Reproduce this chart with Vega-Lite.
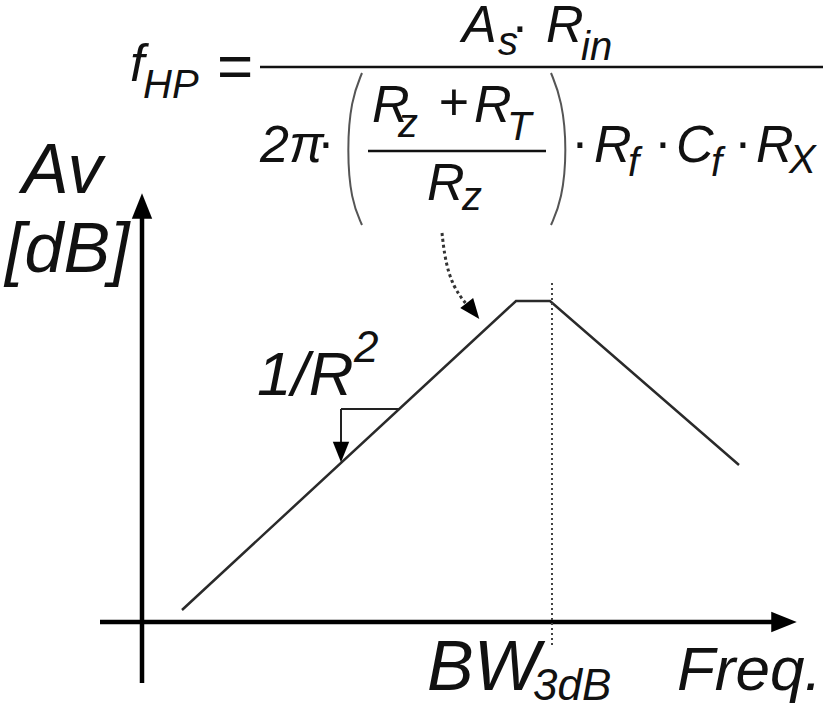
{
  "$schema": "https://vega.github.io/schema/vega-lite/v6.json",
  "width": 827,
  "height": 710,
  "autosize": {"type": "none"},
  "padding": 0,
  "background": "white",
  "config": {"view": {"stroke": null}},
  "resolve": {"scale": {"size": "independent"}},
  "datasets": {
    "curve": [
      {"x": 40, "y": 12, "i": 0},
      {"x": 374, "y": 321, "i": 1},
      {"x": 408, "y": 321, "i": 2},
      {"x": 597, "y": 157, "i": 3}
    ],
    "axes": [
      {"x": 0, "y": -61, "x2": 0, "y2": 410},
      {"x": -42, "y": 0, "x2": 633, "y2": 0}
    ],
    "bw": [{"x": 410, "y": -23, "y2": 339}],
    "fracs": [
      {"x": 118, "x2": 681, "y": 555},
      {"x": 226, "x2": 404, "y": 471}
    ],
    "slope": [
      {"x": 199, "y": 213, "x2": 258, "y2": 213},
      {"x": 199, "y": 213, "x2": 199, "y2": 177}
    ],
    "parens": [
      {"p": "L", "i": 0, "x": 220, "y": 549},
      {"p": "L", "i": 1, "x": 209, "y": 522},
      {"p": "L", "i": 2, "x": 205, "y": 472},
      {"p": "L", "i": 3, "x": 209, "y": 422},
      {"p": "L", "i": 4, "x": 220, "y": 397},
      {"p": "R", "i": 0, "x": 409, "y": 549},
      {"p": "R", "i": 1, "x": 420, "y": 522},
      {"p": "R", "i": 2, "x": 425, "y": 472},
      {"p": "R", "i": 3, "x": 420, "y": 422},
      {"p": "R", "i": 4, "x": 409, "y": 397}
    ],
    "dash": [
      {"i": 0, "x": 300, "y": 389},
      {"i": 1, "x": 303, "y": 362},
      {"i": 2, "x": 311, "y": 335},
      {"i": 3, "x": 325, "y": 317}
    ],
    "heads": [
      {"x": 0, "y": 416, "deg": 270, "kind": "axis"},
      {"x": 642, "y": 0, "deg": 0, "kind": "axis"},
      {"x": 199, "y": 170, "deg": 90, "kind": "pointer"},
      {"x": 331, "y": 311, "deg": 52, "kind": "pointer"}
    ],
    "textLeft": [
      {"t": "f", "x": -12, "y": 541, "role": "main"},
      {"t": "HP", "x": 1, "y": 524, "role": "sub"},
      {"t": "A", "x": 320, "y": 580, "role": "main"},
      {"t": "s", "x": 356, "y": 567, "role": "sub"},
      {"t": "R", "x": 404, "y": 580, "role": "main"},
      {"t": "in", "x": 439, "y": 562, "role": "sub"},
      {"t": "2π", "x": 118, "y": 460, "role": "main"},
      {"t": "R", "x": 230, "y": 500, "role": "main"},
      {"t": "z", "x": 256, "y": 485, "role": "sub"},
      {"t": "R", "x": 332, "y": 500, "role": "main"},
      {"t": "T", "x": 365, "y": 482, "role": "sub"},
      {"t": "R", "x": 285, "y": 422, "role": "main"},
      {"t": "z", "x": 320, "y": 412, "role": "sub"},
      {"t": "R", "x": 452, "y": 460, "role": "main"},
      {"t": "f", "x": 486, "y": 446, "role": "sub"},
      {"t": "C", "x": 534, "y": 460, "role": "main"},
      {"t": "f", "x": 569, "y": 446, "role": "sub"},
      {"t": "R", "x": 614, "y": 460, "role": "main"},
      {"t": "X", "x": 647, "y": 449, "role": "sub"},
      {"t": "Av", "x": -120, "y": 429, "role": "label"},
      {"t": "[dB]", "x": -137, "y": 350, "role": "label"},
      {"t": "1/R", "x": 115, "y": 227, "role": "label2"},
      {"t": "2", "x": 212, "y": 260, "role": "small"},
      {"t": "BW", "x": 285, "y": -68, "role": "label"},
      {"t": "3dB", "x": 391, "y": -78, "role": "small"},
      {"t": "Freq.", "x": 535, "y": -68, "role": "label2"}
    ],
    "textCenter": [
      {"t": "=", "x": 93, "y": 535, "role": "label2"},
      {"t": "·", "x": 378, "y": 579, "role": "main"},
      {"t": "·", "x": 184, "y": 463, "role": "main"},
      {"t": "+", "x": 312, "y": 502, "role": "main"},
      {"t": "·", "x": 438, "y": 463, "role": "main"},
      {"t": "·", "x": 521, "y": 463, "role": "main"},
      {"t": "·", "x": 601, "y": 463, "role": "main"}
    ]
  },
  "encoding": {
    "x": {"field": "x", "type": "quantitative", "axis": null, "scale": {"domain": [-142, 685], "nice": false, "zero": false}},
    "y": {"field": "y", "type": "quantitative", "axis": null, "scale": {"domain": [-88, 622], "nice": false, "zero": false}}
  },
  "layer": [
    {
      "data": {"name": "curve"},
      "mark": {"type": "line", "stroke": "#2a2a2a", "strokeWidth": 2.5},
      "encoding": {"order": {"field": "i", "type": "quantitative"}}
    },
    {
      "data": {"name": "axes"},
      "mark": {"type": "rule", "stroke": "black", "strokeWidth": 4.5},
      "encoding": {"x2": {"field": "x2"}, "y2": {"field": "y2"}}
    },
    {
      "data": {"name": "bw"},
      "mark": {"type": "rule", "stroke": "#444", "strokeWidth": 2, "strokeDash": [2, 3]},
      "encoding": {"y2": {"field": "y2"}}
    },
    {
      "data": {"name": "fracs"},
      "mark": {"type": "rule", "stroke": "#111", "strokeWidth": 2.5},
      "encoding": {"x2": {"field": "x2"}}
    },
    {
      "data": {"name": "slope"},
      "mark": {"type": "rule", "stroke": "#222", "strokeWidth": 2},
      "encoding": {"x2": {"field": "x2"}, "y2": {"field": "y2"}}
    },
    {
      "data": {"name": "parens"},
      "mark": {"type": "line", "interpolate": "basis", "stroke": "#555", "strokeWidth": 2},
      "encoding": {"detail": {"field": "p"}, "order": {"field": "i", "type": "quantitative"}}
    },
    {
      "data": {"name": "dash"},
      "mark": {"type": "line", "interpolate": "basis", "stroke": "#333", "strokeWidth": 3, "strokeDash": [3, 3]},
      "encoding": {"order": {"field": "i", "type": "quantitative"}}
    },
    {
      "data": {"name": "heads"},
      "mark": {"type": "point", "shape": "M1,0L-1,-0.8L-1,0.8Z", "filled": true, "color": "black", "opacity": 1, "strokeWidth": 0},
      "encoding": {
        "angle": {"field": "deg", "type": "quantitative", "scale": null},
        "size": {"field": "kind", "type": "nominal", "scale": {"type": "ordinal", "domain": ["axis", "pointer"], "range": [650, 420]}, "legend": null}
      }
    },
    {
      "data": {"name": "textLeft"},
      "mark": {"type": "text", "align": "left", "baseline": "alphabetic", "font": "Liberation Sans", "fontStyle": "italic", "color": "#111"},
      "encoding": {
        "text": {"field": "t"},
        "size": {"field": "role", "type": "nominal", "scale": {"type": "ordinal", "domain": ["main", "sub", "label", "label2", "small"], "range": [52, 40, 70, 62, 44]}, "legend": null}
      }
    },
    {
      "data": {"name": "textCenter"},
      "mark": {"type": "text", "align": "center", "baseline": "alphabetic", "font": "Liberation Sans", "color": "#111"},
      "encoding": {
        "text": {"field": "t"},
        "size": {"field": "role", "type": "nominal", "scale": {"type": "ordinal", "domain": ["main", "sub", "label", "label2", "small"], "range": [52, 40, 70, 62, 44]}, "legend": null}
      }
    }
  ]
}
